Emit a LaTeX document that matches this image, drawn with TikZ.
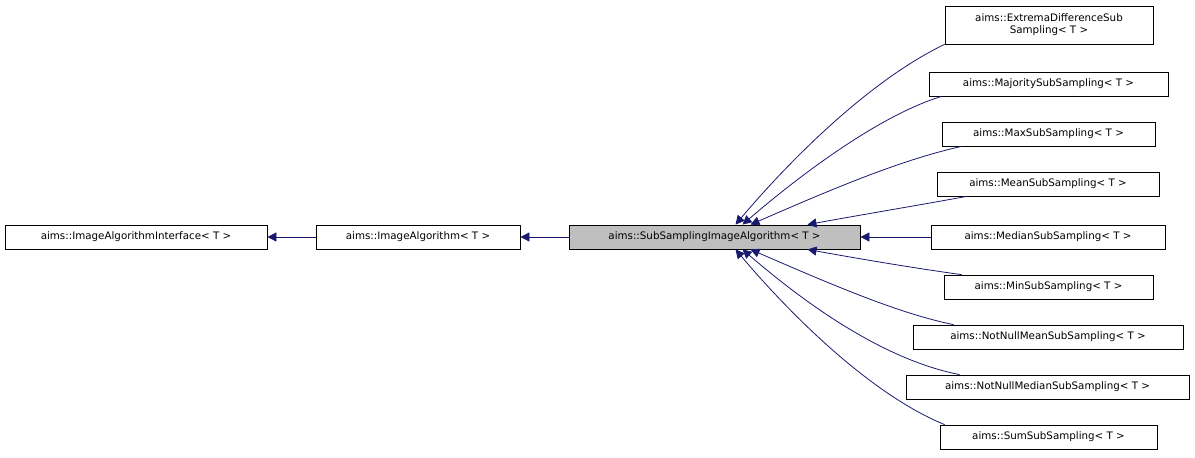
\documentclass[tikz,border=0pt]{standalone}
\usepackage{fontspec}
\setmainfont{DejaVu Sans}
\usetikzlibrary{calc,arrows.meta}
\definecolor{navy}{RGB}{25,25,112}
\begin{document}
\begin{tikzpicture}[x=1pt,y=-1pt,
  box/.style={draw=black,fill=white,inner sep=0pt,minimum height=24pt,font=\fontsize{10.3}{12}\selectfont,align=center,line width=0.8pt},
  edge/.style={draw=navy,line width=0.8pt,{Triangle[length=9pt,width=9pt,fill=navy]}-}]
\useasboundingbox (0,0) rectangle (1195,458);
\node[box,minimum width=262pt] (iai) at (136,237) {aims::ImageAlgorithmInterface< T >};
\node[box,minimum width=204pt] (ia) at (418,237) {aims::ImageAlgorithm< T >};
\node[box,minimum width=291pt,fill={rgb,255:red,191;green,191;blue,191}] (ss) at (714.5,237) {aims::SubSamplingImageAlgorithm< T >};
\node[box,minimum width=208pt,minimum height=38pt] (ex) at (1049,25) {aims::ExtremaDifferenceSub\\Sampling< T >};
\node[box,minimum width=239pt] (ma) at (1048.5,84) {aims::MajoritySubSampling< T >};
\node[box,minimum width=213pt] (mx) at (1048.5,134) {aims::MaxSubSampling< T >};
\node[box,minimum width=222pt] (mn) at (1048,184) {aims::MeanSubSampling< T >};
\node[box,minimum width=234pt] (md) at (1048,237) {aims::MedianSubSampling< T >};
\node[box,minimum width=209pt] (mi) at (1048.5,287) {aims::MinSubSampling< T >};
\node[box,minimum width=270pt] (nm) at (1048,337) {aims::NotNullMeanSubSampling< T >};
\node[box,minimum width=283pt] (nd) at (1047.5,387) {aims::NotNullMedianSubSampling< T >};
\node[box,minimum width=217pt] (su) at (1048.5,437) {aims::SumSubSampling< T >};
\draw[edge] (iai.east) -- (ia.west);
\draw[edge] (ia.east) -- (ss.west);
\draw[edge] (ss.east) -- (md.west);
\draw[edge] ($(ss.north)+(21,0)$) .. controls (790,160) and (870,80) .. ($(ex.south west)+(0,0)$);
\draw[edge] ($(ss.north)+(28,0)$) .. controls (800,175) and (880,115) .. ($(ma.south west)+(13,0)$);
\draw[edge] ($(ss.north)+(36,0)$) .. controls (830,190) and (900,160) .. ($(mx.south west)+(20,0)$);
\draw[edge] ($(ss.north)+(93,0)$) .. controls (860,215) and (920,205) .. ($(mn.south west)+(30,0)$);
\draw[edge] ($(ss.south)+(93,0)$) .. controls (860,259) and (920,269) .. ($(mi.north west)+(18,0)$);
\draw[edge] ($(ss.south)+(36,0)$) .. controls (830,284) and (900,314) .. ($(nm.north west)+(41,0)$);
\draw[edge] ($(ss.south)+(28,0)$) .. controls (800,299) and (880,359) .. ($(nd.north west)+(54,0)$);
\draw[edge] ($(ss.south)+(21,0)$) .. controls (790,314) and (870,394) .. ($(su.north west)+(5,0)$);
\end{tikzpicture}
\end{document}
